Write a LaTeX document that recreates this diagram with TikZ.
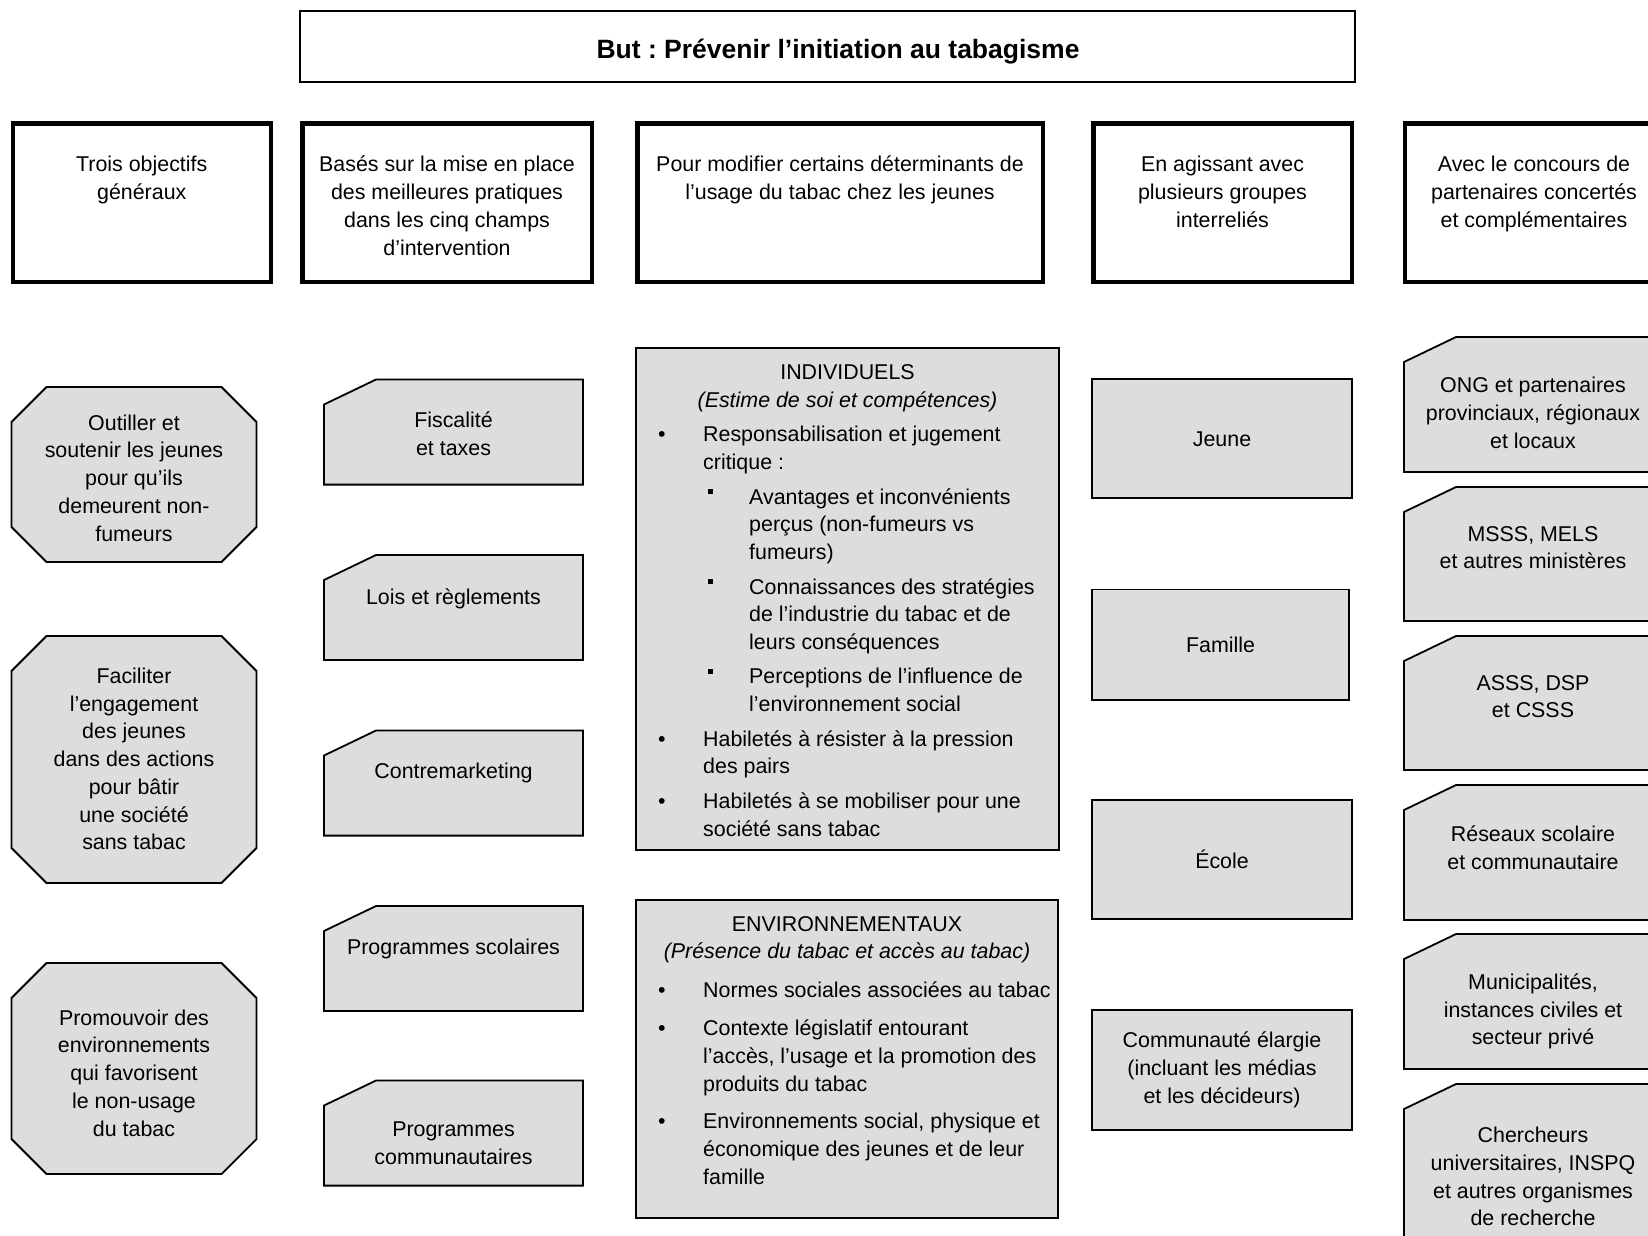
\documentclass[tikz,border=0pt]{standalone}
\usepackage{fontspec}
\setmainfont{Liberation Sans}
\usetikzlibrary{positioning}
\frenchspacing

\definecolor{grisboite}{RGB}{221,221,221}

\newcommand{\corps}{\fontsize{21.4}{27.7}\selectfont}
\newcommand{\carre}{\hspace*{4.5pt}\rule[10pt]{5pt}{5pt}}
% boite a coin coupe / octogone
\newcommand{\coupe}[4]{\draw[boite] (#1+52,#2) -- (#3,#2) -- (#3,#4) -- (#1,#4) -- (#1,#2+25) -- cycle;}
\newcommand{\octo}[4]{\draw[boite] (#1+35,#2) -- (#3-35,#2) -- (#3,#2+35) -- (#3,#4-35) -- (#3-35,#4) -- (#1+35,#4) -- (#1,#4-35) -- (#1,#2+35) -- cycle;}

\tikzset{
  boite/.style={draw,line width=1.8pt,fill=grisboite},
  entete/.style={draw,line width=4.5pt,inner sep=0pt,outer sep=0pt,minimum height=158.5pt},
  groupe/.style={boite,inner sep=0pt,outer sep=0pt,align=center,font=\corps},
  texte/.style={align=center,inner sep=0pt,font=\corps},
  liste/.style={inner sep=0pt,font=\corps,anchor=north west},
}

\begin{document}
\begin{tikzpicture}[x=1pt,y=-1pt]
\useasboundingbox (0,0) rectangle (1648,1235);
\clip (0,0) rectangle (1648,1235);

% but
\node[draw,line width=1.6pt,inner sep=0pt,outer sep=0pt,minimum width=1055pt,minimum height=71pt] (but) at (827.75,46.75) {};
\node[inner sep=0pt,font=\fontsize{26.5}{30}\selectfont\bfseries] (titre) at (838,52) {But : Prévenir l’initiation au tabagisme};

% en-tetes des colonnes
\node[entete,minimum width=258pt] (obj) at (141.75,202.5) {};
\node[entete,minimum width=289.5pt] (champs) at (447,202.5) {};
\node[entete,minimum width=405.5pt] (determ) at (840,202.5) {};
\node[entete,minimum width=258.5pt] (groupes) at (1222.5,202.5) {};
\node[entete,minimum width=258pt] (partn) at (1534,202.5) {};

\node[texte,below=32.75pt of obj.north] (tobj) {Trois objectifs\\généraux};
\node[texte,below=32.75pt of champs.north] (tchamps) {Basés sur la mise en place\\des meilleures pratiques\\dans les cinq champs\\d’intervention};
\node[texte,below=32.75pt of determ.north] (tdeterm) {Pour modifier certains déterminants de\\l’usage du tabac chez les jeunes};
\node[texte,below=32.75pt of groupes.north] (tgroupes) {En agissant avec\\plusieurs groupes\\interreliés};
\node[texte,below=32.75pt of partn.north] (tpartn) {Avec le concours de\\partenaires concertés\\et complémentaires};

% objectifs
\octo{11.5}{387}{256.5}{562}
\octo{11.5}{636}{256.5}{883}
\octo{11.5}{963}{256.5}{1174}
\node[texte] (outiller) at (134,478) {Outiller et\\soutenir les jeunes\\pour qu’ils\\demeurent non-\\fumeurs};
\node[texte] (faciliter) at (134,759) {Faciliter\\l’engagement\\des jeunes\\dans des actions\\pour bâtir\\une société\\sans tabac};
\node[texte] (promouvoir) at (134,1073) {Promouvoir des\\environnements\\qui favorisent\\le non-usage\\du tabac};

% champs d'intervention
\coupe{324}{379.5}{583}{484.6}
\coupe{324}{555}{583}{660}
\coupe{324}{730.5}{583}{835.6}
\coupe{324}{906}{583}{1011}
\coupe{324}{1080.5}{583}{1185.6}
\node[texte,anchor=north] (fisc) at (453.5,412) {Fiscalité\\et taxes};
\node[texte,anchor=north] (lois) at (453.5,589) {Lois et règlements};
\node[texte,anchor=north] (contre) at (453.5,763) {Contremarketing};
\node[texte,anchor=north] (progsco) at (453.5,939) {Programmes scolaires};
\node[texte,anchor=north] (progcom) at (453.5,1122) {Programmes\\communautaires};

% determinants
\node[boite,inner sep=0pt,outer sep=0pt,minimum width=423pt,minimum height=502pt] (indiv) at (847.5,599) {};
\node[boite,inner sep=0pt,outer sep=0pt,minimum width=422pt,minimum height=318pt] (envir) at (847,1059) {};

\node[texte,anchor=north] (tindiv) at (847.5,364.4) {INDIVIDUELS\\\textit{(Estime de soi et compétences)}};
\node[liste] (lindiv) at (658,422.3) {%
\begin{tabular}{@{}p{45pt}@{}p{46pt}@{}l@{}}
\textbullet & \multicolumn{2}{@{}l@{}}{Responsabilisation et jugement}\\
 & \multicolumn{2}{@{}l@{}}{critique :}\\[6.8pt]
 & \carre & Avantages et inconvénients\\
 & & perçus (non-fumeurs vs\\
 & & fumeurs)\\[6.8pt]
 & \carre & Connaissances des stratégies\\
 & & de l’industrie du tabac et de\\
 & & leurs conséquences\\[6.8pt]
 & \carre & Perceptions de l’influence de\\
 & & l’environnement social\\[6.8pt]
\textbullet & \multicolumn{2}{@{}l@{}}{Habiletés à résister à la pression}\\
 & \multicolumn{2}{@{}l@{}}{des pairs}\\[6.8pt]
\textbullet & \multicolumn{2}{@{}l@{}}{Habiletés à se mobiliser pour une}\\
 & \multicolumn{2}{@{}l@{}}{société sans tabac}
\end{tabular}};

\node[texte,anchor=north] (tenvir) at (847,916) {ENVIRONNEMENTAUX\\\textit{(Présence du tabac et accès au tabac)}};
\node[liste] (lenvir) at (658,978.3) {%
\begin{tabular}{@{}p{45pt}@{}l@{}}
\textbullet & Normes sociales associées au tabac\\[10pt]
\textbullet & Contexte législatif entourant\\
 & l’accès, l’usage et la promotion des\\
 & produits du tabac\\[10pt]
\textbullet & Environnements social, physique et\\
 & économique des jeunes et de leur\\
 & famille
\end{tabular}};

% groupes
\node[groupe,minimum width=260pt,minimum height=119pt] (jeune) at (1222,438.75) {Jeune};
\node[groupe,minimum width=257pt,minimum height=110.5pt] (famille) at (1220.5,644.8) {Famille};
\node[groupe,minimum width=260pt,minimum height=119pt] (ecole) at (1222,859.5) {École};
\node[groupe,minimum width=260pt,minimum height=120pt] (commun) at (1222,1070) {Communauté élargie\\(incluant les médias\\et les décideurs)};

% partenaires
\coupe{1404}{337}{1663}{472}
\coupe{1404}{487}{1663}{621}
\coupe{1404}{636}{1663}{770}
\coupe{1404}{785}{1663}{920}
\coupe{1404}{934}{1663}{1069}
\coupe{1404}{1084}{1663}{1260}
\node[texte,anchor=north] (ong) at (1533,377) {ONG et partenaires\\provinciaux, régionaux\\et locaux};
\node[texte,anchor=north] (msss) at (1533,526) {MSSS, MELS\\et autres ministères};
\node[texte,anchor=north] (asss) at (1533,675) {ASSS, DSP\\et CSSS};
\node[texte,anchor=north] (reseaux) at (1533,825.5) {Réseaux scolaire\\et communautaire};
\node[texte,anchor=north] (munic) at (1533,973.5) {Municipalités,\\instances civiles et\\secteur privé};
\node[texte,anchor=north] (cherch) at (1533,1127) {Chercheurs\\universitaires, INSPQ\\et autres organismes\\de recherche};
\end{tikzpicture}
\end{document}
